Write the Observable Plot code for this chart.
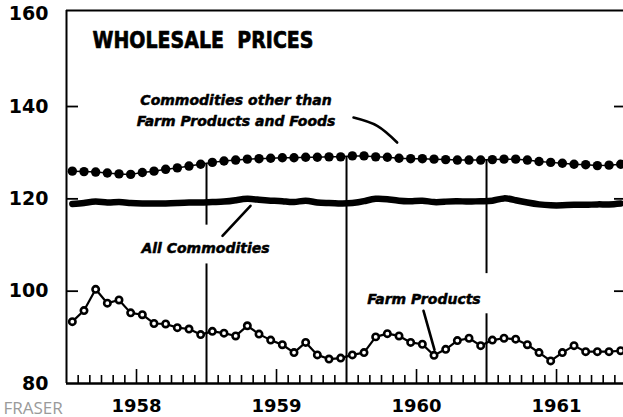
<!DOCTYPE html>
<html><head><meta charset="utf-8">
<script src="https://cdn.jsdelivr.net/npm/d3@7"></script>
<script src="https://cdn.jsdelivr.net/npm/@observablehq/plot@0.6"></script>
<style>
html,body{margin:0;padding:0;background:#fff;overflow:hidden}
#chart{width:623px;height:417px}
</style></head><body><div id="chart"></div>
<script>
// Monthly index values, Jan 1958 – Dec 1961
const years = ["1958", "1959", "1960", "1961"];
const yTicks = [80, 100, 120, 140, 160];
const otherCommodities = [
  126.0, 125.9, 125.8, 125.6, 125.4, 125.3, 125.7, 126.0, 126.4, 126.7, 127.1, 127.5,
  127.9, 128.2, 128.4, 128.6, 128.7, 128.8, 128.9, 128.9, 129.0, 129.0, 129.1, 129.1,
  129.3, 129.3, 129.1, 129.0, 128.8, 128.7, 128.7, 128.6, 128.5, 128.4, 128.4, 128.4,
  128.5, 128.6, 128.6, 128.4, 128.1, 127.9, 127.7, 127.5, 127.4, 127.2, 127.3, 127.5
];
const allCommodities = [
  118.9, 119.1, 119.4, 119.2, 119.3, 119.1, 119.0, 119.0, 119.0, 119.1, 119.2, 119.2,
  119.3, 119.4, 119.7, 120.0, 119.8, 119.6, 119.5, 119.3, 119.6, 119.2, 119.1, 119.0,
  119.1, 119.5, 120.0, 119.9, 119.6, 119.5, 119.6, 119.3, 119.4, 119.5, 119.4, 119.5,
  119.6, 120.1, 119.7, 119.2, 118.8, 118.6, 118.6, 118.7, 118.7, 118.8, 118.8, 119.0
];
const farmProducts = [
  93.4, 95.8, 100.4, 97.4, 98.1, 95.3, 94.9, 93.0, 92.9, 92.1, 91.8, 90.6,
  91.3, 90.9, 90.3, 92.5, 90.7, 89.4, 88.4, 86.7, 88.9, 86.2, 85.3, 85.5,
  86.2, 86.7, 90.1, 90.8, 90.3, 88.9, 88.5, 86.1, 87.4, 89.3, 89.8, 88.2,
  89.4, 89.8, 89.6, 88.4, 86.7, 84.9, 86.7, 88.2, 86.9, 86.9, 86.9, 87.1
];
// Year separator segments (month index, from value, to value)
const separators = [
  {m: 12, y1: 80, y2: 105.9}, {m: 12, y1: 114.3, y2: 127.7},
  {m: 24, y1: 80, y2: 129.2},
  {m: 36, y1: 80, y2: 95.1}, {m: 36, y1: 103.8, y2: 128.4}
];
// Annotations (in month index / value units)
const title = "WHOLESALE  PRICES";
const titleAt = {m: 2.23, v: 152.7};
const labels = [
  {m: 14.53, v: 135.84, text: "Commodities other than\nFarm Products and Foods"},
  {m: 11.91, v: 108.3, text: "All Commodities"},
  {m: 30.64, v: 97.27, text: "Farm Products"}
];
const leaderOther = [{m: 24.6, v: 137.6}, {m: 26.63, v: 135.8}, {m: 28.34, v: 132.2}];
const leaderAll = [{m: 13.37, v: 112.0}, {m: 15.77, v: 118.5}];
const leaderFarm = [{m: 30.6, v: 95.75}, {m: 31.54, v: 87.3}];
const watermark = "FRASER";

const series = arr => arr.map((v, i) => ({m: i + 0.5, v}));
const minorTicks = d3.range(1, 48).filter(i => i % 6 !== 0);
const midYear = years.map((y, i) => i * 12 + 6);

const font = "'DejaVu Sans', sans-serif";
const chart = Plot.plot({
  width: 623, height: 417,
  marginLeft: 66, marginRight: 0, marginTop: 10, marginBottom: 34,
  x: {domain: [0, 47.74], axis: null},
  y: {domain: [80, 160.8], axis: null},
  style: {fontFamily: font, background: "white", color: "black", overflow: "visible"},
  marks: [
    // frame
    Plot.ruleY([160.8], {strokeWidth: 2}),
    Plot.ruleX([0], {strokeWidth: 2}),
    Plot.ruleY([80], {strokeWidth: 2.5}),
    // y axis labels and inward ticks
    Plot.axisY(yTicks, {anchor: "left", tickSize: 0, tickPadding: 18, fontSize: 19, fontWeight: "bold", label: null}),
    Plot.axisY([100, 120, 140], {anchor: "left", tickSize: -12, strokeWidth: 1.8, fill: "none", label: null}),
    Plot.axisY([100, 120, 140], {anchor: "right", tickSize: -10, strokeWidth: 1.8, fill: "none", label: null}),
    // x axis
    Plot.axisX(minorTicks, {anchor: "bottom", tickSize: -8, strokeWidth: 1.6, fill: "none", label: null}),
    Plot.axisX(midYear, {anchor: "bottom", tickSize: -14, strokeWidth: 1.6, fill: "none", label: null}),
    Plot.axisX(midYear, {anchor: "bottom", tickSize: 0, tickPadding: 16, fontSize: 18, fontWeight: "bold",
      tickFormat: (d, i) => years[i], label: null}),
    // separators
    Plot.ruleX(separators, {x: "m", y1: "y1", y2: "y2", strokeWidth: 2}),
    // series
    Plot.line(series(otherCommodities), {x: "m", y: "v", strokeWidth: 1.5}),
    Plot.dot(series(otherCommodities), {x: "m", y: "v", r: 4.7, fill: "black"}),
    Plot.line(series(allCommodities), {x: "m", y: "v", strokeWidth: 6.5, curve: "natural", strokeLinecap: "round"}),
    Plot.line(series(farmProducts), {x: "m", y: "v", strokeWidth: 2.2}),
    Plot.dot(series(farmProducts), {x: "m", y: "v", r: 3.2, fill: "white", stroke: "black", strokeWidth: 2.6}),
    // annotations
    Plot.text([title], {x: titleAt.m, y: titleAt.v, text: d => d, textAnchor: "start", lineAnchor: "bottom",
      fontSize: 23, fontWeight: "bold", fill: "black", stroke: "black", strokeWidth: 0.7}),
    Plot.text(labels, {x: "m", y: "v", text: "text", textAnchor: "middle", lineAnchor: "bottom",
      fontSize: 14, fontWeight: "bold", fontStyle: "italic", lineHeight: 1.5,
      fill: "black", stroke: "black", strokeWidth: 0.5}),
    Plot.line(leaderOther, {x: "m", y: "v", curve: "natural", strokeWidth: 2.6}),
    Plot.line(leaderAll, {x: "m", y: "v", strokeWidth: 2.6}),
    Plot.line(leaderFarm, {x: "m", y: "v", strokeWidth: 2.6}),
    Plot.text([watermark], {x: 0, y: 73.5, text: d => d, textAnchor: "start", lineAnchor: "bottom", dx: -63,
      fontSize: 17, fill: "#9a9a9a", fontFamily: "'Open Sans', sans-serif", fontWeight: 400})
  ]
});
document.getElementById("chart").appendChild(chart);
d3.select(chart).selectAll("text").filter(function() { return this.textContent === title; })
  .attr("textLength", 221).attr("lengthAdjust", "spacingAndGlyphs");
</script>
</body></html>
